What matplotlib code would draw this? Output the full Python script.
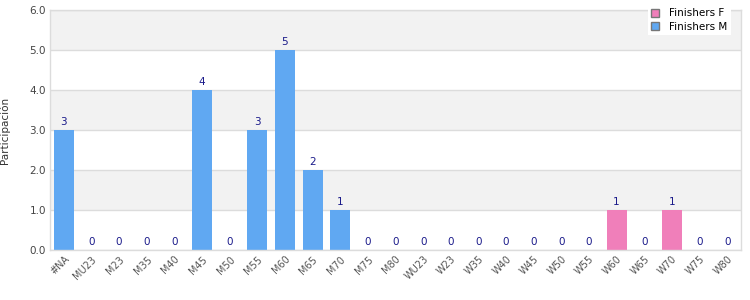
import matplotlib
matplotlib.use("Agg")
import matplotlib.pyplot as plt
from matplotlib.patches import Patch

categories = ["#NA", "MU23", "M23", "M35", "M40", "M45", "M50", "M55", "M60", "M65",
              "M70", "M75", "M80", "WU23", "W23", "W35", "W40", "W45", "W50", "W55",
              "W60", "W65", "W70", "W75", "W80"]
values = [3, 0, 0, 0, 0, 4, 0, 3, 5, 2, 1, 0, 0, 0, 0, 0, 0, 0, 0, 0, 1, 0, 1, 0, 0]
series = ["M"] * 13 + ["F"] * 12
yticks = [0, 1, 2, 3, 4, 5, 6]

col_m = "#60a8f2"
col_f = "#f07fba"
lab_col = "#1a1a8a"

fig = plt.figure(figsize=(7.5, 3.0), dpi=100)
ax = fig.add_axes([50 / 750, 1 - 250 / 300, 691 / 750, 240 / 300])

for i in range(6):
    if i % 2 == 1:
        ax.axhspan(i, i + 1, color="#f2f2f2", zorder=0, lw=0)
for y in yticks:
    ax.axhline(y, color="#dcdcdc", lw=1, zorder=1)

x = list(range(len(categories)))
colors = [col_m if s == "M" else col_f for s in series]
ax.bar(x, values, width=0.72, color=colors, zorder=2)
for xi, v in zip(x, values):
    ax.text(xi, v + 0.07, str(v), ha="center", va="bottom", fontsize=7.5, color=lab_col, zorder=3)

ax.set_xlim(-0.5, len(categories) - 0.5)
ax.set_ylim(0, 6)
ax.set_yticks(yticks)
ax.set_yticklabels([f"{v:.1f}" for v in yticks], fontsize=7.5, color="#444444")
ax.set_xticks(x)
ax.set_xticklabels(categories, rotation=45, ha="right", rotation_mode="anchor", fontsize=7, color="#555555")
ax.tick_params(length=0, pad=3)
ax.set_ylabel("Participación", fontsize=7.5, color="#333333", labelpad=14)
for s in ax.spines.values():
    s.set_color("#dcdcdc")
    s.set_linewidth(1)

handles = [Patch(facecolor=col_f, edgecolor="#777777", label="Finishers F"),
           Patch(facecolor=col_m, edgecolor="#777777", label="Finishers M")]
leg = fig.legend(handles=handles, loc="upper right", bbox_to_anchor=(736 / 750, 1.0),
                 fontsize=7.5, frameon=True, framealpha=1, edgecolor="white",
                 handlelength=0.8, handleheight=0.8, borderpad=0.3, labelspacing=0.35,
                 handletextpad=1.0, fancybox=False)
leg.get_frame().set_linewidth(0)
leg.set_zorder(10)

fig.savefig("out.png", dpi=100, facecolor="white")
